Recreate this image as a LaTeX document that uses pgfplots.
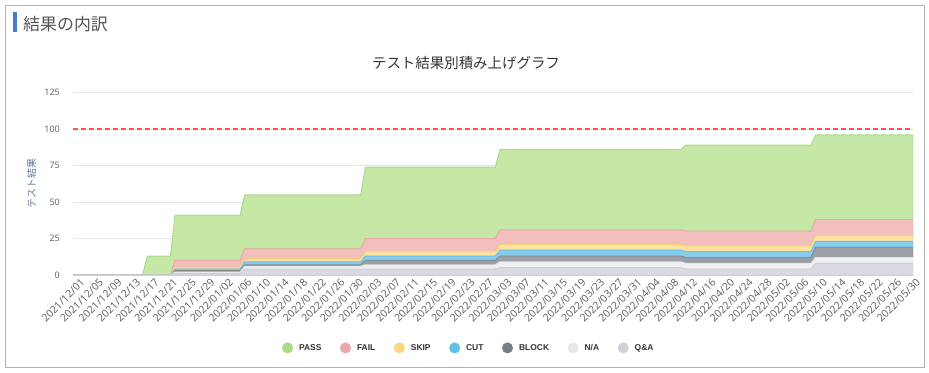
\documentclass[border=0pt]{standalone}
\usepackage{pgfplots}
\pgfplotsset{compat=1.18}
\usepackage{pgfplotstable}
\usepackage{fontspec}
\setmainfont{Noto Sans}
\newfontfamily\jp{Noto Sans CJK JP}
\newfontfamily\legfont{Liberation Sans}
\definecolor{passF}{HTML}{C6E8A6}\definecolor{passL}{HTML}{ACDA8C}\definecolor{passM}{HTML}{A6DC82}
\definecolor{failF}{HTML}{F2BFBD}\definecolor{failL}{HTML}{EEA9A7}\definecolor{failM}{HTML}{F0A6A6}
\definecolor{skipF}{HTML}{FBE2A0}\definecolor{skipL}{HTML}{F7D47A}\definecolor{skipM}{HTML}{FBD77F}
\definecolor{cutF}{HTML}{86CDEE}\definecolor{cutL}{HTML}{6CC2EA}\definecolor{cutM}{HTML}{5FC0EA}
\definecolor{blockF}{HTML}{9B9FA6}\definecolor{blockL}{HTML}{8A8E95}\definecolor{blockM}{HTML}{7A7F87}
\definecolor{naF}{HTML}{EFF0F2}\definecolor{naL}{HTML}{E4E6E9}\definecolor{naM}{HTML}{E6E8EC}
\definecolor{qaF}{HTML}{D8DCE2}\definecolor{qaL}{HTML}{CCD0D6}\definecolor{qaM}{HTML}{CDD1D8}
\definecolor{gridc}{HTML}{E6E6E6}
\definecolor{axc}{HTML}{CCD6EB}
\definecolor{tickc}{HTML}{666666}
\definecolor{limitred}{RGB}{255,79,79}
\definecolor{ylab}{HTML}{5F7896}
\definecolor{hdrbar}{HTML}{4A7CC9}
\pgfplotstableread{
day QA NA BLOCK CUT SKIP FAIL PASS
0 0 0 0 0 0 0 0
15 0 0 0 0 0 0 0
16 0 0 0 0 0 0 13
21 0 0 0 0 0 0 13
22 1 1 1 1 1 5 31
36 1 1 1 1 1 5 31
37 4 2 1 2 2 7 37
62 4 2 1 2 2 7 37
63 4 3 3 3 3 9 49
91 4 3 3 3 3 9 49
92 5 4 4 4 4 10 55
131 5 4 4 4 4 10 55
132 4 4 4 4 4 10 59
159 4 4 4 4 4 10 59
160 8 4 7 4 4 11 58
181 8 4 7 4 4 11 58
}\datatable
\pgfplotstableread{
day lim
0 100
181 100
}\limittable
\begin{document}
\begin{tikzpicture}[x=1bp,y=1bp]
\path (0,0) rectangle (929,372);
\draw[draw=black!30, line width=1bp] (5.5,4.5) rectangle (924.5,366.5);
\fill[hdrbar] (13,340) rectangle (17,360);
\node[anchor=west, font=\jp\fontsize{17}{20}\selectfont, text=black!67, inner sep=0] at (23,348) {結果の内訳};
\node[font=\jp\fontsize{14.5}{17}\selectfont, text=black!80, inner sep=0] at (466,309) {テスト結果別積み上げグラフ};
\begin{axis}[
  at={(73bp,97bp)}, anchor=south west, scale only axis,
  width=840bp, height=182.3bp,
  xmin=0, xmax=181, ymin=0, ymax=125,
  stack plots=y,
  axis x line*=bottom, axis y line*=left,
  x axis line style={draw=axc, line width=1bp},
  y axis line style={draw=none},
  major tick length=0pt,
  ymajorgrids, grid style={draw=gridc, line width=0.8bp},
  ytick={0,25,50,75,100,125},
  /pgf/number format/assume math mode=true,
  yticklabel style={font=\fontsize{9}{10}\selectfont, text=tickc, inner sep=0pt, xshift=-13bp, anchor=east},
  xtick={0,4,...,180},
  xticklabels={2021/12/01,2021/12/05,2021/12/09,2021/12/13,2021/12/17,2021/12/21,2021/12/25,2021/12/29,2022/01/02,2022/01/06,2022/01/10,2022/01/14,2022/01/18,2022/01/22,2022/01/26,2022/01/30,2022/02/03,2022/02/07,2022/02/11,2022/02/15,2022/02/19,2022/02/23,2022/02/27,2022/03/03,2022/03/07,2022/03/11,2022/03/15,2022/03/19,2022/03/23,2022/03/27,2022/03/31,2022/04/04,2022/04/08,2022/04/12,2022/04/16,2022/04/20,2022/04/24,2022/04/28,2022/05/02,2022/05/06,2022/05/10,2022/05/14,2022/05/18,2022/05/22,2022/05/26,2022/05/30},
  xticklabel style={font=\fontsize{10.5}{11}\selectfont, text=tickc, rotate=45, anchor=east, inner sep=0pt, xshift=3bp, yshift=-11bp},
  ylabel={\jp テスト結果},
  ylabel style={at={(axis description cs:-0.0492,0.5)}, anchor=center, font=\jp\fontsize{10}{11}\selectfont, text=ylab},
  legend columns=7,
  reverse legend,
  legend style={at={(0.470,-0.400)}, anchor=center, draw=none, fill=none,
    font=\legfont\bfseries\fontsize{8.5}{10}\selectfont, text=black!80,
    nodes={inner sep=0pt},
    /tikz/every odd column/.append style={column sep=6bp},
    /tikz/every even column/.append style={column sep=18.5bp}},
]
\addplot[fill=qaF, draw=qaL, line width=1bp, legend image code/.code={\fill[qaM] (0bp,0bp) circle (5bp);}] table[x=day,y=QA] {\datatable} \closedcycle;
\addlegendentry{Q\&A}
\addplot[fill=naF, draw=naL, line width=1bp, legend image code/.code={\fill[naM] (0bp,0bp) circle (5bp);}] table[x=day,y=NA] {\datatable} \closedcycle;
\addlegendentry{N/A}
\addplot[fill=blockF, draw=blockL, line width=1bp, legend image code/.code={\fill[blockM] (0bp,0bp) circle (5bp);}] table[x=day,y=BLOCK] {\datatable} \closedcycle;
\addlegendentry{BLOCK}
\addplot[fill=cutF, draw=cutL, line width=1bp, legend image code/.code={\fill[cutM] (0bp,0bp) circle (5bp);}] table[x=day,y=CUT] {\datatable} \closedcycle;
\addlegendentry{CUT}
\addplot[fill=skipF, draw=skipL, line width=1bp, legend image code/.code={\fill[skipM] (0bp,0bp) circle (5bp);}] table[x=day,y=SKIP] {\datatable} \closedcycle;
\addlegendentry{SKIP}
\addplot[fill=failF, draw=failL, line width=1bp, legend image code/.code={\fill[failM] (0bp,0bp) circle (5bp);}] table[x=day,y=FAIL] {\datatable} \closedcycle;
\addlegendentry{FAIL}
\addplot[fill=passF, draw=passL, line width=1bp, legend image code/.code={\fill[passM] (0bp,0bp) circle (5bp);}] table[x=day,y=PASS] {\datatable} \closedcycle;
\addlegendentry{PASS}
\end{axis}
\begin{axis}[
  at={(73bp,97bp)}, anchor=south west, scale only axis,
  width=840bp, height=182.3bp,
  xmin=0, xmax=181, ymin=0, ymax=125,
  hide axis,
]
\addplot[color=limitred, solid, line width=1.4bp, dash pattern=on 5bp off 3bp, mark=none] table[x=day,y=lim] {\limittable};
\end{axis}
\pgfresetboundingbox
\path (0,0) rectangle (929,372);
\end{tikzpicture}
\end{document}
